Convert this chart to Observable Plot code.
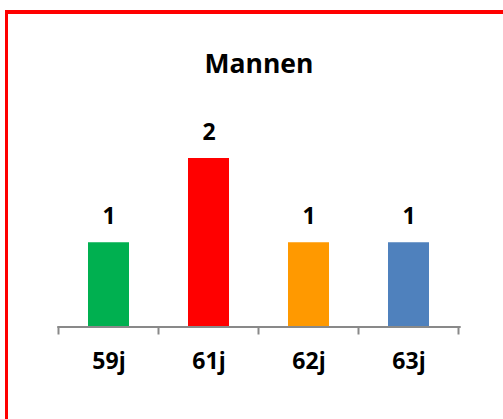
<!DOCTYPE html>
<html><head><meta charset="utf-8">
<script src="https://cdn.jsdelivr.net/npm/d3@7"></script>
<script src="https://cdn.jsdelivr.net/npm/@observablehq/plot@0.6"></script>
<style>
html,body{margin:0;padding:0;background:#fff;overflow:hidden;width:503px;height:419px;}
#frame{position:absolute;left:5px;top:10px;width:600px;height:500px;border-top:4px solid #ff0000;border-left:3px solid #ff0000;box-sizing:border-box;}
#title{position:absolute;left:57px;width:404px;top:50px;text-align:center;font-family:"Open Sans";font-weight:bold;font-size:26.5px;line-height:26.5px;color:#000;}
#chart{position:absolute;left:0;top:0;}
</style></head><body>
<div id="frame"></div>
<div id="title"></div>
<div id="chart"></div>
<script>
const titleText = "Mannen";
const categories = ["59j", "61j", "62j", "63j"];
const counts = [1, 2, 1, 1];
const barColors = ["#00B050", "#FF0000", "#FF9900", "#4F81BD"];
const axisColor = "#898989";

document.getElementById("title").textContent = titleText;
const data = categories.map((c, i) => ({age: c, count: counts[i]}));

function boundaryTicks(index, scales) {
  const x = scales.x, y = scales.y;
  const bw = x.bandwidth ? x.bandwidth() : 0;
  const step = x.step ? x.step() : (x(categories[1]) - x(categories[0]));
  const y0 = y(0);
  const g = d3.create("svg:g").attr("stroke", axisColor).attr("stroke-width", 2);
  const edges = [];
  categories.forEach((c, i) => {
    const left = x(c) + bw / 2 - step / 2;
    edges.push(left);
    if (i === categories.length - 1) edges.push(left + step);
  });
  for (const e of edges) {
    g.append("line").attr("x1", e).attr("x2", e).attr("y1", y0).attr("y2", y0 + 8);
  }
  return g.node();
}

const chart = Plot.plot({
  width: 503,
  height: 419,
  marginLeft: 57.3,
  marginRight: 42.3,
  marginTop: 158,
  marginBottom: 92.5,
  style: {fontFamily: "Open Sans", color: "#000", background: "transparent"},
  x: {domain: categories, paddingInner: 0.59, paddingOuter: 0.295, label: null},
  y: {domain: [0, 2], axis: null},
  color: {domain: categories, range: barColors},
  marks: [
    Plot.barY(data, {x: "age", y: "count", fill: "age"}),
    Plot.ruleY([0], {stroke: axisColor, strokeWidth: 2}),
    boundaryTicks,
    Plot.axisX({tickSize: 0, tickPadding: 26, fontSize: 23, fontWeight: "bold", fill: "#000"}),
    Plot.text(data, {x: "age", y: "count", text: d => String(d.count), lineAnchor: "bottom", dy: -19, fontSize: 23, fontWeight: "bold", fill: "#000"})
  ]
});
document.getElementById("chart").appendChild(chart);
</script>
</body></html>
